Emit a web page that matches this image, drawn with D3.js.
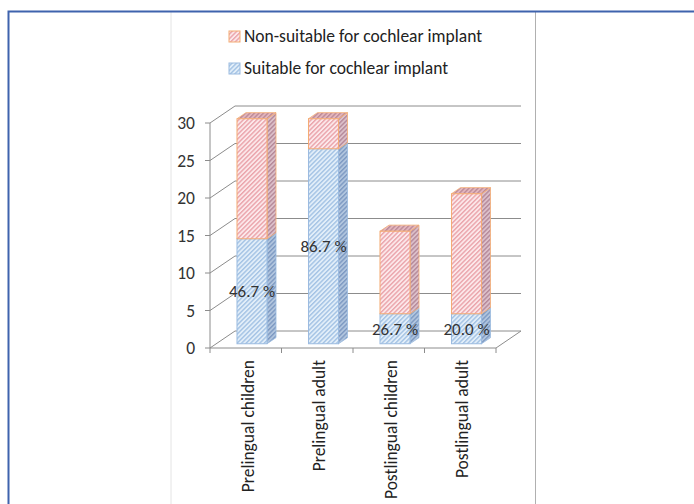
<!DOCTYPE html>
<html><head><meta charset="utf-8">
<script src="https://cdn.jsdelivr.net/npm/d3@7"></script>
<style>
html,body{margin:0;padding:0;background:#fff;}
svg{display:block;font-family:Carlito, Calibri, Lato, "Open Sans", sans-serif;}
</style></head>
<body>
<svg id="c" width="694" height="504"></svg>
<script>
const categories = ["Prelingual children", "Prelingual adult", "Postlingual children", "Postlingual adult"];
const suitable = [14, 26, 4, 4];
const nonSuitable = [16, 4, 11, 16];
const pctLabels = ["46.7 %", "86.7 %", "26.7 %", "20.0 %"];
const yTicks = [0, 5, 10, 15, 20, 25, 30];
const seriesNames = ["Non-suitable for cochlear implant", "Suitable for cochlear implant"];

const svg = d3.select("#c");

// frame
svg.append("rect").attr("x", 0).attr("y", 0).attr("width", 694).attr("height", 504).attr("fill", "#fff");
svg.append("line").attr("x1", 171).attr("x2", 171).attr("y1", 12).attr("y2", 504).attr("stroke", "#e4e4e4").attr("stroke-width", 1);
svg.append("line").attr("x1", 535.5).attr("x2", 535.5).attr("y1", 12).attr("y2", 504).attr("stroke", "#b0b0b0").attr("stroke-width", 1);
svg.append("path").attr("d", "M8.5,504 V11.5 H694").attr("fill", "none").attr("stroke", "#3f63ad").attr("stroke-width", 2);

// patterns
const defs = svg.append("defs");
function hatch(id, bg, line) {
  const p = defs.append("pattern").attr("id", id).attr("patternUnits", "userSpaceOnUse")
    .attr("width", 3.2).attr("height", 3.2).attr("patternTransform", "rotate(45)");
  p.append("rect").attr("width", 3.2).attr("height", 3.2).attr("fill", bg);
  p.append("rect").attr("width", 1.4).attr("height", 3.2).attr("fill", line);
}
hatch("pinkF", "#fce8ea", "#eaa3aa");
hatch("pinkS", "#dcc0ca", "#b58899");
hatch("pinkT", "#e3b6be", "#bd8a97");
hatch("blueF", "#e2eef9", "#a3c2e4");
hatch("blueS", "#b1c5de", "#7d99c2");

const x = d3.scaleBand().domain(categories).range([210, 496]).padding(0);
const y = d3.scaleLinear().domain([0, 30]).range([348, 123]);
const DX = 25, DY = -17;
const f0 = 0.25, f1 = 0.61;
const bw = x.bandwidth() * 0.42;

const g = svg.append("g");
const gridC = "#8c8c8c";
// back wall grid + side wall diagonals
yTicks.forEach(t => {
  g.append("line").attr("x1", 210 + DX).attr("x2", 496 + DX).attr("y1", y(t) + DY).attr("y2", y(t) + DY)
    .attr("stroke", gridC).attr("stroke-width", 1);
  g.append("line").attr("x1", 210).attr("x2", 210 + DX).attr("y1", y(t)).attr("y2", y(t) + DY)
    .attr("stroke", gridC).attr("stroke-width", 1);
});
// floor front and right diagonal
g.append("line").attr("x1", 210).attr("x2", 496).attr("y1", y(0)).attr("y2", y(0)).attr("stroke", gridC);
g.append("line").attr("x1", 496).attr("x2", 496 + DX).attr("y1", y(0)).attr("y2", y(0) + DY).attr("stroke", gridC);
// y axis
g.append("line").attr("x1", 210).attr("x2", 210).attr("y1", y(30)).attr("y2", y(0)).attr("stroke", gridC);
yTicks.forEach(t => {
  g.append("line").attr("x1", 205).attr("x2", 210).attr("y1", y(t)).attr("y2", y(t)).attr("stroke", gridC);
  g.append("text").attr("x", 195).attr("y", y(t)).attr("dy", "0.35em").attr("text-anchor", "end")
    .attr("font-size", 17.5).attr("fill", "#333").text(t);
});
// category ticks
[210, 496].concat(categories.slice(1).map(c => x(c))).forEach(px => {
  g.append("line").attr("x1", px).attr("x2", px).attr("y1", y(0)).attr("y2", y(0) + 5).attr("stroke", gridC);
});

// bars
function box(x0, w, v0, v1, front, side, top, stroke, drawTop) {
  const fx = x0 + DX * f0, fyo = DY * f0;
  const bx = DX * (f1 - f0), by = DY * (f1 - f0);
  const yb = y(v0) + fyo, yt = y(v1) + fyo;
  g.append("path").attr("d", `M${fx + w},${yb} L${fx + w + bx},${yb + by} L${fx + w + bx},${yt + by} L${fx + w},${yt} Z`)
    .attr("fill", `url(#${side})`).attr("stroke", stroke).attr("stroke-width", 0.8);
  if (drawTop) {
    g.append("path").attr("d", `M${fx},${yt} L${fx + bx},${yt + by} L${fx + w + bx},${yt + by} L${fx + w},${yt} Z`)
      .attr("fill", `url(#${top})`).attr("stroke", stroke).attr("stroke-width", 0.8);
  }
  g.append("rect").attr("x", fx).attr("y", yt).attr("width", w).attr("height", yb - yt)
    .attr("fill", `url(#${front})`).attr("stroke", stroke).attr("stroke-width", 1);
}
categories.forEach((c, i) => {
  const x0 = x(c) + (x.bandwidth() - bw) / 2;
  box(x0, bw, 0, suitable[i], "blueF", "blueS", "blueS", "#9bbbe0", false);
  box(x0, bw, suitable[i], suitable[i] + nonSuitable[i], "pinkF", "pinkS", "pinkT", "#f4ac74", true);
});
// percentage labels
categories.forEach((c, i) => {
  g.append("text").attr("x", x(c) + x.bandwidth() / 2 + DX * f0)
    .attr("y", y(suitable[i] / 2) + DY * f0).attr("dy", "0.35em")
    .attr("text-anchor", "middle").attr("font-size", 17).attr("fill", "#333").text(pctLabels[i]);
});
// category labels
categories.forEach((c, i) => {
  const cx = x(c) + x.bandwidth() / 2 + 2;
  g.append("text").attr("transform", `translate(${cx},${y(0) + 12}) rotate(-90)`)
    .attr("dy", "0.35em").attr("text-anchor", "end").attr("font-size", 17.5).attr("fill", "#222").text(c);
});

// legend
const leg = svg.append("g");
[["pinkF", "#f4ac74"], ["blueF", "#9bbbe0"]].forEach((s, i) => {
  const ly = 36 + i * 32;
  leg.append("rect").attr("x", 229).attr("y", ly - 5).attr("width", 11).attr("height", 11)
    .attr("fill", `url(#${s[0]})`).attr("stroke", s[1]).attr("stroke-width", 1);
  leg.append("text").attr("x", 244).attr("y", ly).attr("dy", "0.35em").attr("font-size", 17.5)
    .attr("fill", "#222").text(seriesNames[i]);
});
</script>
</body></html>
